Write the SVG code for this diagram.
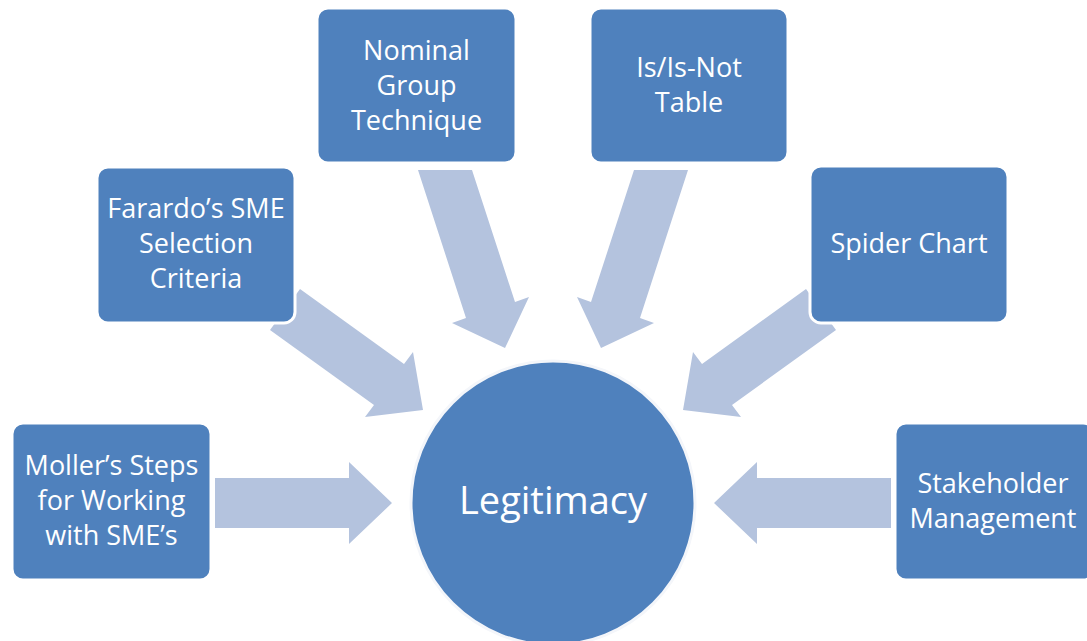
<svg xmlns="http://www.w3.org/2000/svg" width="1087" height="641" viewBox="0 0 1087 641">
  <style>
    .box { fill: #4F81BD; stroke: #ffffff; stroke-width: 3; }
    .hub { fill: #4F81BD; stroke: #f4f6fa; stroke-width: 3; }
    .arrow { fill: #B4C3DE; }
    .lbl { font-family: "Open Sans", "Noto Sans", "Liberation Sans", sans-serif; font-size: 27px; fill: #ffffff; text-anchor: middle; }
    .hubl { font-family: "Open Sans", "Noto Sans", "Liberation Sans", sans-serif; font-size: 38px; fill: #ffffff; text-anchor: middle; }
  </style>
  <rect width="1087" height="641" fill="#ffffff"/>
  <g id="connectors">
    <polygon class="arrow" points="215,478 349,478 349,462 392,503 349,544 349,528 215,528"/>
    <polygon class="arrow" points="891,478 757,478 757,462 714,503 757,544 757,528 891,528"/>
    <polygon class="arrow" points="300,289 404,364 413,352 423,410 365,417 374,405 270,330"/>
    <polygon class="arrow" points="806,289 702,364 693,352 683,410 741,417 732,405 836,330"/>
    <polygon class="arrow" points="418,170 472,170 515,302 529,297 505,348 452,323 466,318"/>
    <polygon class="arrow" points="688,170 634,170 591,302 577,297 601,348 654,323 640,318"/>
  </g>
  <g id="hub">
    <circle class="hub" cx="553" cy="503" r="142"/>
    <text class="hubl" x="553" y="514">Legitimacy</text>
  </g>
  <g id="node-moller">
    <rect class="box" x="12" y="423" width="199" height="157" rx="11"/>
    <text class="lbl" x="111.5" y="475">Moller’s Steps</text>
    <text class="lbl" x="111.5" y="510">for Working</text>
    <text class="lbl" x="111.5" y="545">with SME’s</text>
  </g>
  <g id="node-farardo">
    <rect class="box" x="97" y="167" width="198" height="156" rx="11"/>
    <text class="lbl" x="196" y="218">Farardo’s SME</text>
    <text class="lbl" x="196" y="253">Selection</text>
    <text class="lbl" x="196" y="288">Criteria</text>
  </g>
  <g id="node-nominal">
    <rect class="box" x="317" y="8" width="199" height="155" rx="11"/>
    <text class="lbl" x="416.5" y="60">Nominal</text>
    <text class="lbl" x="416.5" y="95">Group</text>
    <text class="lbl" x="416.5" y="130">Technique</text>
  </g>
  <g id="node-isisnot">
    <rect class="box" x="590" y="8" width="198" height="155" rx="11"/>
    <text class="lbl" x="689" y="77">Is/Is-Not</text>
    <text class="lbl" x="689" y="112">Table</text>
  </g>
  <g id="node-spider">
    <rect class="box" x="810" y="166" width="198" height="157" rx="11"/>
    <text class="lbl" x="909" y="253">Spider Chart</text>
  </g>
  <g id="node-stakeholder">
    <rect class="box" x="895" y="423" width="199" height="157" rx="11"/>
    <text class="lbl" x="993" y="493">Stakeholder</text>
    <text class="lbl" x="993" y="528">Management</text>
  </g>
</svg>
